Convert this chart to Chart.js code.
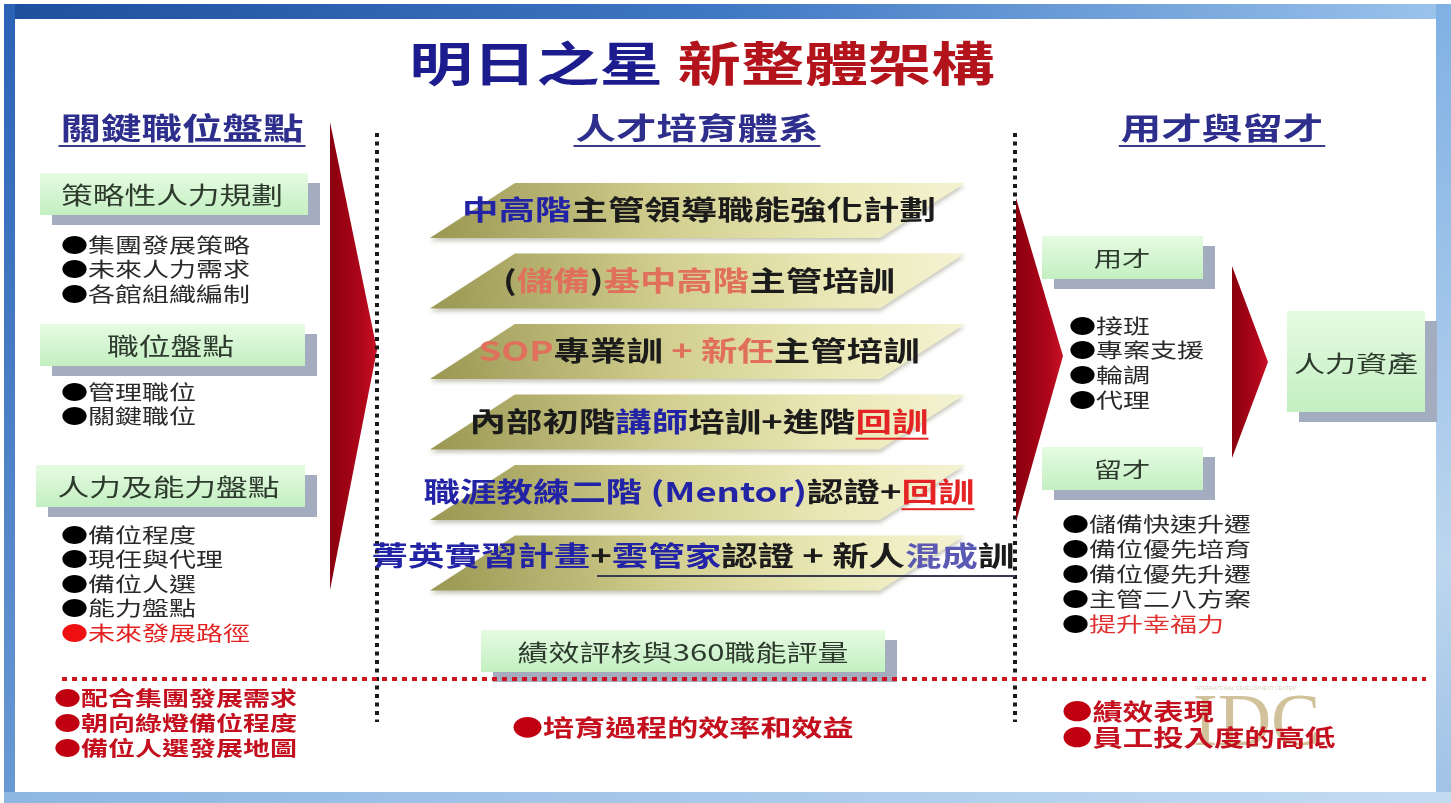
<!DOCTYPE html>
<html>
<head>
<meta charset="utf-8">
<script src="https://cdn.jsdelivr.net/npm/chart.js@4.4.1/dist/chart.umd.min.js"></script>
<style>
  html, body { margin: 0; padding: 0; background: #fff; overflow: hidden; }
  canvas { display: block; }
</style>
</head>
<body>
<canvas id="c" width="1451" height="803"></canvas>
<script>
// ---- content of the slide ----
const titleParts = ['明日之星', '新整體架構'];
const headers = ['關鍵職位盤點', '人才培育體系', '用才與留才'];

const leftBoxes = ['策略性人力規劃', '職位盤點', '人力及能力盤點'];
const leftBullets = [
  ['集團發展策略', '未來人力需求', '各館組織編制'],
  ['管理職位', '關鍵職位'],
  ['備位程度', '現任與代理', '備位人選', '能力盤點', '未來發展路徑']
];
const leftResults = ['配合集團發展需求', '朝向綠燈備位程度', '備位人選發展地圖'];

const programs = [
  ['中高階', '主管領導職能強化計劃'],
  ['(', '儲備', ')', '基中高階', '主管培訓'],
  ['SOP', '專業訓', ' + ', '新任', '主管培訓'],
  ['內部初階', '講師', '培訓+進階', '回訓'],
  ['職涯教練二階 (Mentor)', '認證+', '回訓'],
  ['菁英實習計畫', '+', '雲管家', '認證 + 新人', '混成', '訓']
];
const programTones = [
  ['blue', 'dark'],
  ['dark', 'salmon', 'dark', 'salmon', 'dark'],
  ['salmon', 'dark', 'salmon', 'salmon', 'dark'],
  ['dark', 'blue', 'dark', 'red'],
  ['blue', 'dark', 'red'],
  ['blue', 'dark', 'blue', 'dark', 'lilac', 'dark']
];
const evalBox = '績效評核與360職能評量';
const midResult = '培育過程的效率和效益';

const rightBoxes = ['用才', '留才'];
const useBullets = ['接班', '專案支援', '輪調', '代理'];
const keepBullets = ['儲備快速升遷', '備位優先培育', '備位優先升遷', '主管二八方案', '提升幸福力'];
const assetBox = '人力資產';
const rightResults = ['績效表現', '員工投入度的高低'];

// ---- drawing ----
const W = 1451, H = 803;
const FONT = '"Noto Sans CJK TC", "Noto Sans CJK SC", sans-serif';
const SX = 1.35; // slide was stretched horizontally
const tones = {
  dark: '#1b1b1b', blue: '#2323a6', salmon: '#e0705c', red: '#e42424', lilac: '#5a5ab4'
};

function drawRich(ctx, segs, px, py, size, weight, align) {
  ctx.save();
  ctx.font = weight + ' ' + size + 'px ' + FONT;
  ctx.textBaseline = 'middle';
  ctx.textAlign = 'left';
  const widths = segs.map(s => ctx.measureText(s.t).width);
  const total = widths.reduce((a, b) => a + b, 0);
  ctx.translate(px, py);
  ctx.scale(SX, 1);
  let x = align === 'center' ? -total / 2 : 0;
  segs.forEach((s, i) => {
    ctx.fillStyle = s.c;
    ctx.fillText(s.t, x, 0);
    if (s.u) ctx.fillRect(x, size * 0.6, widths[i], 2);
    x += widths[i];
  });
  ctx.restore();
  return total * SX;
}

function box(ctx, X, Y, x, y, w, h) {
  const x0 = X(x), y0 = Y(y), x1 = X(x + w), y1 = Y(y + h);
  ctx.fillStyle = '#a4adbf';
  ctx.fillRect(x0 + 12, y0 + 10, x1 - x0, y1 - y0);
  const g = ctx.createLinearGradient(0, y0, 0, y1);
  g.addColorStop(0, '#e6fbe2');
  g.addColorStop(1, '#c3efc1');
  ctx.fillStyle = g;
  ctx.fillRect(x0, y0, x1 - x0, y1 - y0);
}

function arrow(ctx, pts) {
  const g = ctx.createLinearGradient(pts[0][0], 0, pts[1][0], 0);
  g.addColorStop(0, '#8a000e');
  g.addColorStop(0.7, '#b0061a');
  g.addColorStop(1, '#c81226');
  ctx.fillStyle = g;
  ctx.beginPath();
  pts.forEach((p, i) => i ? ctx.lineTo(p[0], p[1]) : ctx.moveTo(p[0], p[1]));
  ctx.closePath();
  ctx.fill();
}

function bulletList(ctx, X, Y, items, x, y0, step, size, textColor, dotColor, weight) {
  items.forEach((t, i) => {
    const tc = typeof textColor === 'function' ? textColor(i) : textColor;
    const dc = typeof dotColor === 'function' ? dotColor(i) : dotColor;
    drawRich(ctx, [{ t: '●', c: dc }, { t: t, c: tc }], X(x), Y(y0 + i * step), size, weight || 'normal', 'left');
  });
}

const slidePlugin = {
  id: 'slide',
  beforeDraw(chart) {
    const ctx = chart.ctx;
    const X = v => chart.scales.x.getPixelForValue(v);
    const Y = v => chart.scales.y.getPixelForValue(v);
    ctx.save();
    ctx.fillStyle = '#ffffff';
    ctx.fillRect(0, 0, W, H);
    // frame
    let g = ctx.createLinearGradient(X(0), 0, X(W), 0);
    g.addColorStop(0, '#1d4f9e');
    g.addColorStop(0.5, '#3f78c4');
    g.addColorStop(1, '#9cc4ec');
    ctx.fillStyle = g;
    ctx.fillRect(X(4), Y(4), X(W) - X(4), Y(19) - Y(4));
    g = ctx.createLinearGradient(0, Y(0), 0, Y(H));
    g.addColorStop(0, '#2a62b6');
    g.addColorStop(1, '#6a9ad4');
    ctx.fillStyle = g;
    ctx.fillRect(X(4), Y(4), X(15) - X(4), Y(795) - Y(4));
    g = ctx.createLinearGradient(0, Y(0), 0, Y(H));
    g.addColorStop(0, '#7fb0e4');
    g.addColorStop(0.7, '#bcd6ee');
    g.addColorStop(1, '#9fc2e6');
    ctx.fillStyle = g;
    ctx.fillRect(X(1436), Y(4), X(W) - X(1436), Y(H) - Y(4));
    g = ctx.createLinearGradient(X(0), 0, X(W), 0);
    g.addColorStop(0, '#8db6e2');
    g.addColorStop(1, '#c4dcf2');
    ctx.fillStyle = g;
    ctx.fillRect(X(4), Y(792), X(W) - X(4), Y(H) - Y(792));

    // title
    ctx.font = 'bold 47px ' + FONT;
    const wa = ctx.measureText(titleParts[0] + ' ').width * SX;
    const wb = ctx.measureText(titleParts[1]).width * SX;
    const tx = X(702) - (wa + wb) / 2;
    drawRich(ctx, [{ t: titleParts[0] + ' ', c: '#1c1c8e' }], tx, Y(63), 47, 'bold', 'left');
    drawRich(ctx, [{ t: titleParts[1], c: '#b3141c' }], tx + wa, Y(63), 47, 'bold', 'left');

    // headers
    const hx = [182, 697, 1222];
    headers.forEach((h, i) => {
      const w = drawRich(ctx, [{ t: h, c: '#2e2f8c' }], X(hx[i]), Y(128), 30, 'bold', 'center');
      ctx.fillStyle = '#3a3a86';
      ctx.fillRect(X(hx[i]) - w / 2 - 2, Y(145), w + 4, 2);
    });

    // left column
    const lb = [[40, 173, 268], [40, 324, 265], [36, 465, 269]];
    const lbY = [245, 392, 535];
    leftBoxes.forEach((t, i) => {
      box(ctx, X, Y, lb[i][0], lb[i][1], lb[i][2], 42);
      drawRich(ctx, [{ t: t, c: '#2d3a2d' }], X(lb[i][0] + lb[i][2] / 2 - 2), Y(lb[i][1] + 22), 23.5, 'normal', 'center');
      bulletList(ctx, X, Y, leftBullets[i], 61, lbY[i], 24.5, 20,
        k => (i === 2 && k === 4) ? '#e42020' : '#2a2a2a',
        k => (i === 2 && k === 4) ? '#ee1010' : '#000');
    });
    bulletList(ctx, X, Y, leftResults, 54, 698, 25, 20, '#c4101e', '#c00010', 'bold');

    // big left arrow
    arrow(ctx, [[X(330), Y(122)], [X(377), Y(350)], [X(330), Y(590)]]);

    // dotted separators
    ctx.save();
    ctx.strokeStyle = '#1a1a1a';
    ctx.lineWidth = 4;
    ctx.setLineDash([4, 4.5]);
    [377, 1015].forEach(xv => {
      ctx.beginPath();
      ctx.moveTo(X(xv), Y(133));
      ctx.lineTo(X(xv), Y(722));
      ctx.stroke();
    });
    ctx.restore();

    // middle bands
    programs.forEach((segs, i) => {
      const top = 183 + i * 70.5, bot = top + 55;
      ctx.save();
      ctx.shadowColor = 'rgba(90,90,60,0.35)';
      ctx.shadowBlur = 4;
      ctx.shadowOffsetY = 3;
      const gb = ctx.createLinearGradient(X(430), Y(bot), X(965), Y(top));
      gb.addColorStop(0, '#9a9752');
      gb.addColorStop(0.45, '#d2cf90');
      gb.addColorStop(0.75, '#eae8b6');
      gb.addColorStop(1, '#f4f3d2');
      ctx.fillStyle = gb;
      ctx.beginPath();
      ctx.moveTo(X(515), Y(top));
      ctx.lineTo(X(965), Y(top));
      ctx.lineTo(X(880), Y(bot));
      ctx.lineTo(X(430), Y(bot));
      ctx.closePath();
      ctx.fill();
      ctx.restore();
    });
    programs.forEach((segs, i) => {
      const cy = 210 + i * 70.5 - (i === 5 ? 6.5 : 0);
      const rich = segs.map((t, k) => {
        const s = { t: t, c: tones[programTones[i][k]] };
        if ((i === 3 && k === 3) || (i === 4 && k === 2)) s.u = true;
        return s;
      });
      const cx = i === 5 ? 693 : 699;
      drawRich(ctx, rich, X(cx), Y(cy), 27, 'bold', 'center');
      if (i === 5) {
        ctx.fillStyle = '#3a3a50';
        ctx.fillRect(X(597), Y(cy + 19), X(1015) - X(597), 2);
      }
    });

    // evaluation box
    box(ctx, X, Y, 481, 630, 404, 42);
    drawRich(ctx, [{ t: evalBox, c: '#2d3a2d' }], X(683), Y(652), 23, 'normal', 'center');

    // red dotted divider
    ctx.save();
    ctx.strokeStyle = '#d0141e';
    ctx.lineWidth = 4;
    ctx.setLineDash([5, 5]);
    ctx.beginPath();
    ctx.moveTo(X(62), Y(679));
    ctx.lineTo(X(1426), Y(679));
    ctx.stroke();
    ctx.restore();

    drawRich(ctx, [{ t: '●', c: '#c00010' }, { t: midResult, c: '#c4101e' }], X(512), Y(727), 23, 'bold', 'left');

    // right column
    arrow(ctx, [[X(1016), Y(198)], [X(1063), Y(356)], [X(1016), Y(522)]]);
    arrow(ctx, [[X(1232), Y(266)], [X(1268), Y(362)], [X(1232), Y(458)]]);
    const rb = [236, 447];
    rightBoxes.forEach((t, i) => {
      box(ctx, X, Y, 1042, rb[i], 161, 43);
      drawRich(ctx, [{ t: t, c: '#2d3a2d' }], X(1122), Y(rb[i] + 22), 21, 'normal', 'center');
    });
    bulletList(ctx, X, Y, useBullets, 1069, 326, 24.7, 20, '#2a2a2a', '#000');
    bulletList(ctx, X, Y, keepBullets, 1062, 524, 25, 20,
      k => k === 4 ? '#e03030' : '#2a2a2a', '#000');

    box(ctx, X, Y, 1287, 311, 138, 101);
    drawRich(ctx, [{ t: assetBox, c: '#2d3a2d' }], X(1356), Y(363), 23, 'normal', 'center');

    // faint logo behind results
    ctx.save();
    ctx.globalAlpha = 0.6;
    ctx.fillStyle = '#b39a5a';
    ctx.font = '74px "Liberation Serif", serif';
    ctx.textBaseline = 'alphabetic';
    ctx.translate(X(1193), Y(745));
    ctx.scale(1.0, 1);
    ctx.fillText('IDC', 0, 0);
    ctx.restore();
    ctx.save();
    ctx.globalAlpha = 0.4;
    ctx.fillStyle = '#9a8a60';
    ctx.font = '5px sans-serif';
    ctx.fillText('INTERNATIONAL DEVELOPMENT CENTER', X(1195), Y(690));
    ctx.restore();

    bulletList(ctx, X, Y, rightResults, 1062, 711, 26, 22.5, '#c4101e', '#c00010', 'bold');
    ctx.restore();
  }
};

new Chart(document.getElementById('c').getContext('2d'), {
  type: 'scatter',
  data: { datasets: [{ data: [] }] },
  options: {
    responsive: false,
    animation: false,
    events: [],
    layout: { padding: 0 },
    plugins: { legend: { display: false }, tooltip: { enabled: false } },
    scales: {
      x: { type: 'linear', min: 0, max: W, display: false },
      y: { type: 'linear', min: 0, max: H, reverse: true, display: false }
    }
  },
  plugins: [slidePlugin]
});
</script>
</body>
</html>
